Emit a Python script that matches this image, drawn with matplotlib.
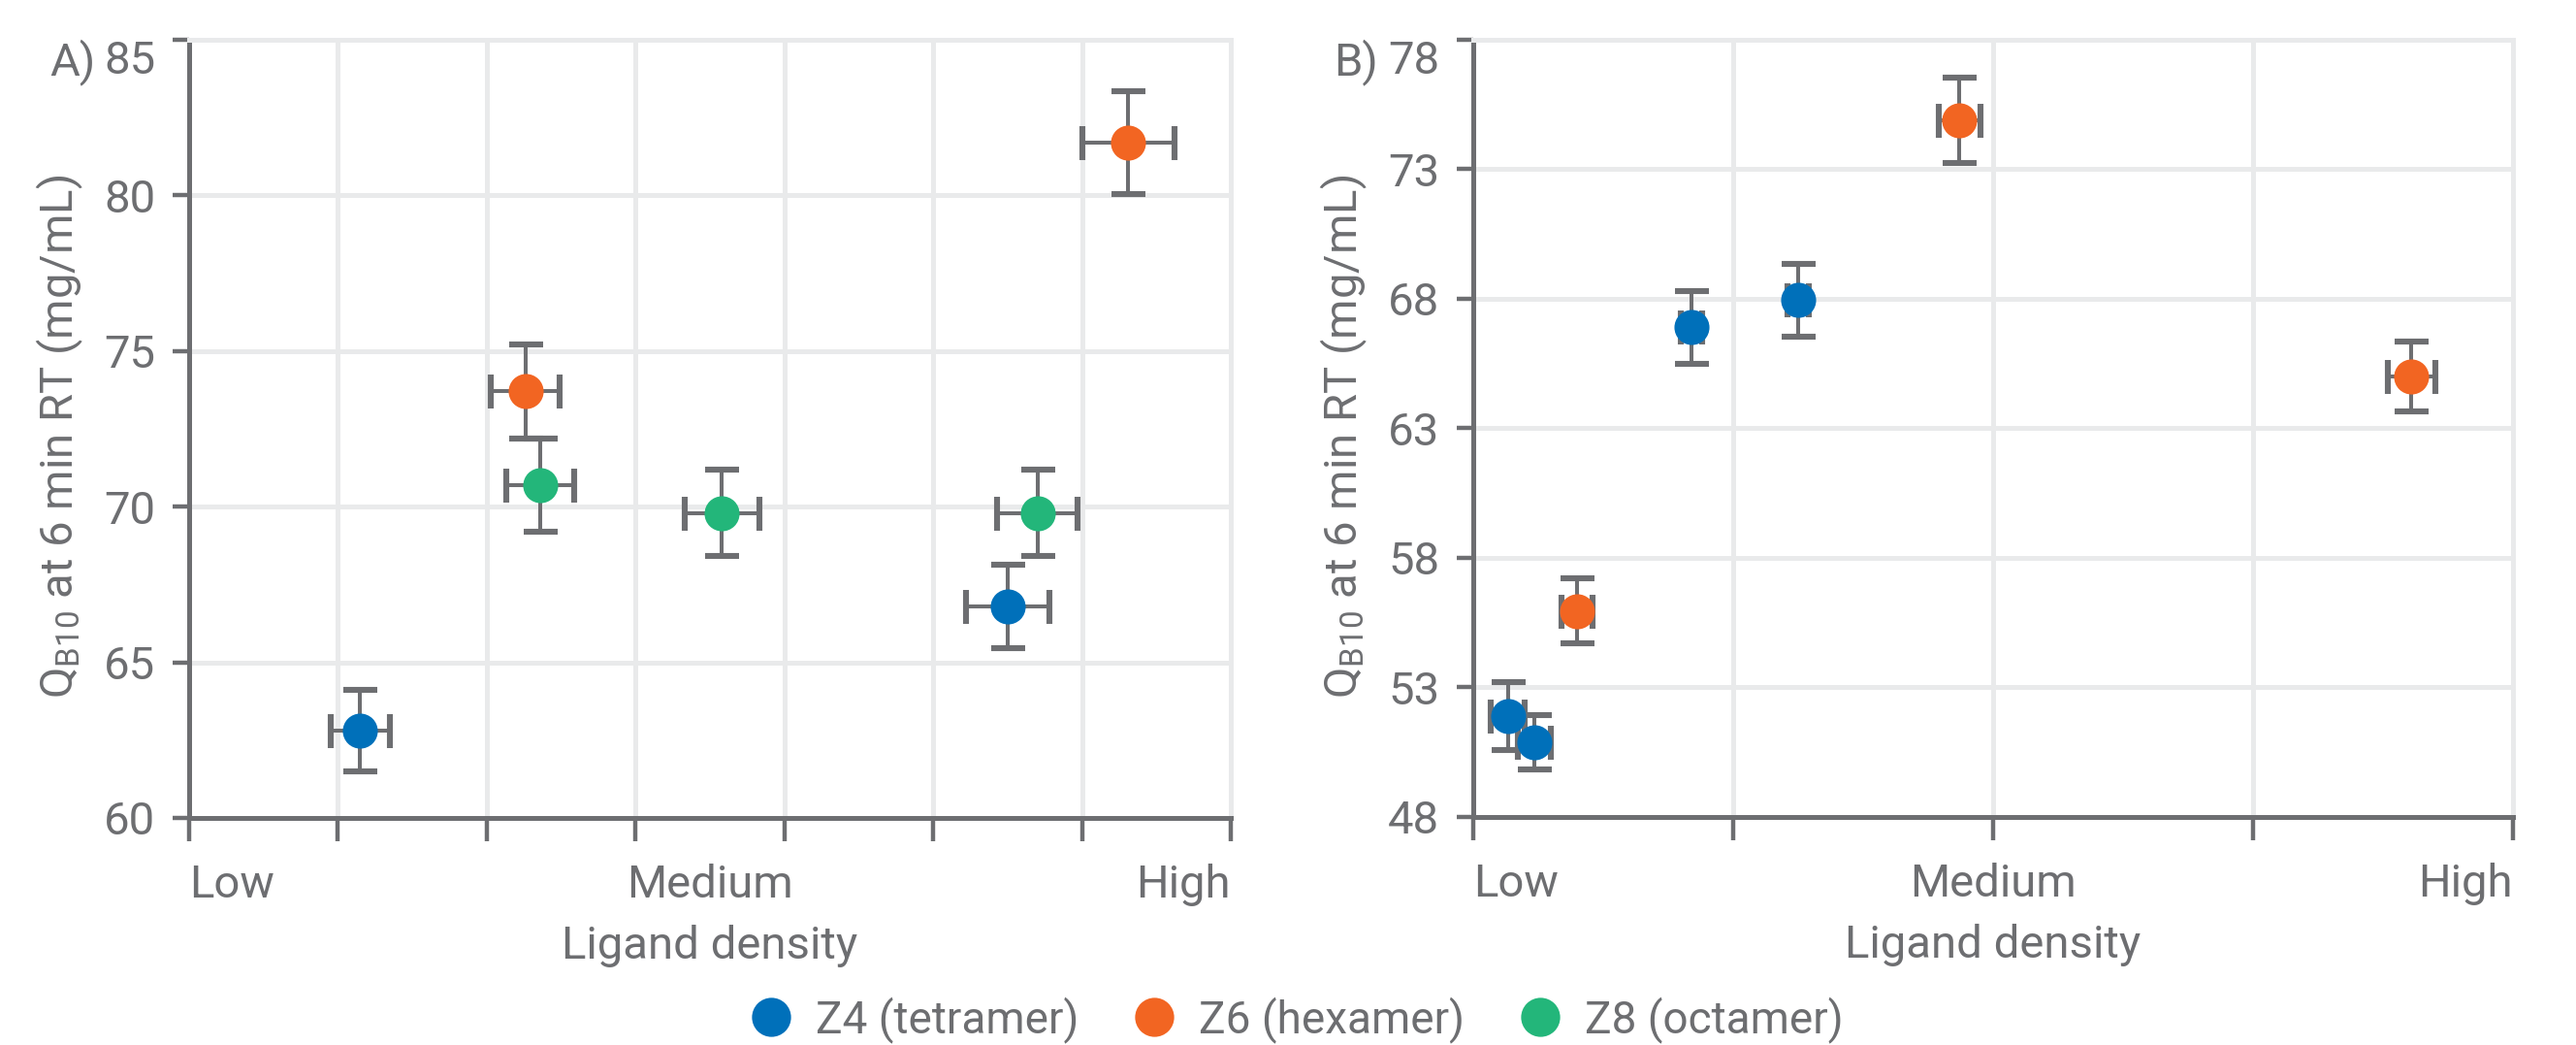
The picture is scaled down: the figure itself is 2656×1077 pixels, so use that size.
import matplotlib
matplotlib.use("Agg")

import matplotlib.pyplot as plt
from matplotlib.lines import Line2D
import numpy as np

plt.rcParams["font.family"] = ["Roboto", "DejaVu Sans"]
plt.rcParams["mathtext.fontset"] = "custom"
plt.rcParams["mathtext.rm"] = "Roboto"

GRAY = "#6D6E71"
GRID = "#E9EAEB"
BLUE = "#0070BA"
ORANGE = "#F26522"
GREEN = "#23B67A"

# panel A: ligand density (arbitrary units 0..7) vs QB10
a_z4_x = [1.15, 5.50]
a_z4_y = [62.8, 66.8]
a_z4_xerr = [0.20, 0.28]
a_z4_yerr = [1.3, 1.35]

a_z6_x = [2.26, 6.31]
a_z6_y = [73.7, 81.7]
a_z6_xerr = [0.23, 0.31]
a_z6_yerr = [1.5, 1.65]

a_z8_x = [2.36, 3.58, 5.70]
a_z8_y = [70.7, 69.8, 69.8]
a_z8_xerr = [0.23, 0.25, 0.27]
a_z8_yerr = [1.5, 1.4, 1.4]

# panel B: ligand density (arbitrary units 0..4) vs QB10
b_z4_x = [0.134, 0.235, 0.84, 1.25]
b_z4_y = [51.9, 50.9, 66.9, 67.95]
b_z4_xerr = [0.065, 0.065, 0.04, 0.04]
b_z4_yerr = [1.3, 1.05, 1.4, 1.4]

b_z6_x = [0.40, 1.87, 3.61]
b_z6_y = [55.95, 74.9, 65.0]
b_z6_xerr = [0.06, 0.08, 0.09]
b_z6_yerr = [1.25, 1.65, 1.35]

density_labels = ["Low", "Medium", "High"]
series_names = ["Z4 (tetramer)", "Z6 (hexamer)", "Z8 (octamer)"]
series_colors = [BLUE, ORANGE, GREEN]

FS = 17


def draw_points(ax, x, y, xerr, yerr, color):
    ax.errorbar(x, y, xerr=xerr, yerr=yerr, fmt="o", ms=12, mfc=color, mec=color,
                ecolor=GRAY, elinewidth=1.45, capsize=6.3, capthick=2.2, zorder=3)


def style_axes(ax, xmax, ymin, ymax, ystep):
    ax.set_xlim(0, xmax)
    ax.set_ylim(ymin, ymax)
    yt = np.arange(ymin, ymax + 0.1, ystep)
    ax.set_yticks(yt)
    ax.set_yticklabels([str(int(v)) for v in yt])
    # unlabeled tick marks at every integer, labels at the ends and middle
    ax.xaxis.remove_overlapping_locs = False
    ax.set_xticks(np.arange(0, xmax + 1), minor=False)
    ax.set_xticklabels([])
    ax.set_xticks([0, xmax / 2, xmax], minor=True)
    ax.set_xticklabels(density_labels, minor=True)
    ax.tick_params(axis="x", which="major", direction="out", length=8.5, width=1.6, color=GRAY)
    ax.tick_params(axis="x", which="minor", length=0, pad=17, labelsize=FS, labelcolor=GRAY)
    ax.tick_params(axis="y", direction="out", length=6, width=1.6, color=GRAY,
                   pad=6.5, labelsize=FS, labelcolor=GRAY)
    labs = ax.get_xticklabels(minor=True)
    labs[0].set_horizontalalignment("left")
    labs[-1].set_horizontalalignment("right")
    ax.get_yticklabels()[-1].set_verticalalignment("top")
    ax.grid(True, which="major", color=GRID, lw=1.8, zorder=0)
    ax.set_axisbelow(True)
    for s in ["left", "bottom"]:
        ax.spines[s].set_color(GRAY)
        ax.spines[s].set_linewidth(1.8)
    for s in ["top", "right"]:
        ax.spines[s].set_color(GRID)
        ax.spines[s].set_linewidth(1.8)
    ax.set_xlabel("Ligand density", fontsize=FS, color=GRAY)
    ax.xaxis.set_label_coords(0.5, -0.137)
    ax.set_ylabel(r"Q$_{\mathregular{B10}}$ at 6 min RT (mg/mL)", fontsize=FS, color=GRAY)
    ax.yaxis.set_label_coords(-0.1, 0.49)


fig = plt.figure(figsize=(13.28, 5.385), dpi=200)
axA = fig.add_axes([0.0734, 0.2173, 0.4044, 0.7447])
axB = fig.add_axes([0.5719, 0.2182, 0.4036, 0.7438])

draw_points(axA, a_z4_x, a_z4_y, a_z4_xerr, a_z4_yerr, BLUE)
draw_points(axA, a_z6_x, a_z6_y, a_z6_xerr, a_z6_yerr, ORANGE)
draw_points(axA, a_z8_x, a_z8_y, a_z8_xerr, a_z8_yerr, GREEN)
style_axes(axA, 7, 60, 85, 5)

draw_points(axB, b_z4_x, b_z4_y, b_z4_xerr, b_z4_yerr, BLUE)
draw_points(axB, b_z6_x, b_z6_y, b_z6_xerr, b_z6_yerr, ORANGE)
style_axes(axB, 4, 48, 78, 5)

fig.text(51 / 2656, 1 - 64 / 1077, "A)", fontsize=FS, color=GRAY, ha="left", va="center")
fig.text(1375 / 2656, 1 - 64 / 1077, "B)", fontsize=FS, color=GRAY, ha="left", va="center")

handles = [Line2D([], [], ls="none", marker="o", ms=13.5, mfc=c, mec=c) for c in series_colors]
fig.legend(handles, series_names, loc="center", bbox_to_anchor=(0.504, 0.024), ncol=3,
           frameon=False, fontsize=16.5, labelcolor=GRAY, handlelength=0.8,
           handletextpad=0.6, columnspacing=1.3)

plt.savefig("out.png", dpi=200)
